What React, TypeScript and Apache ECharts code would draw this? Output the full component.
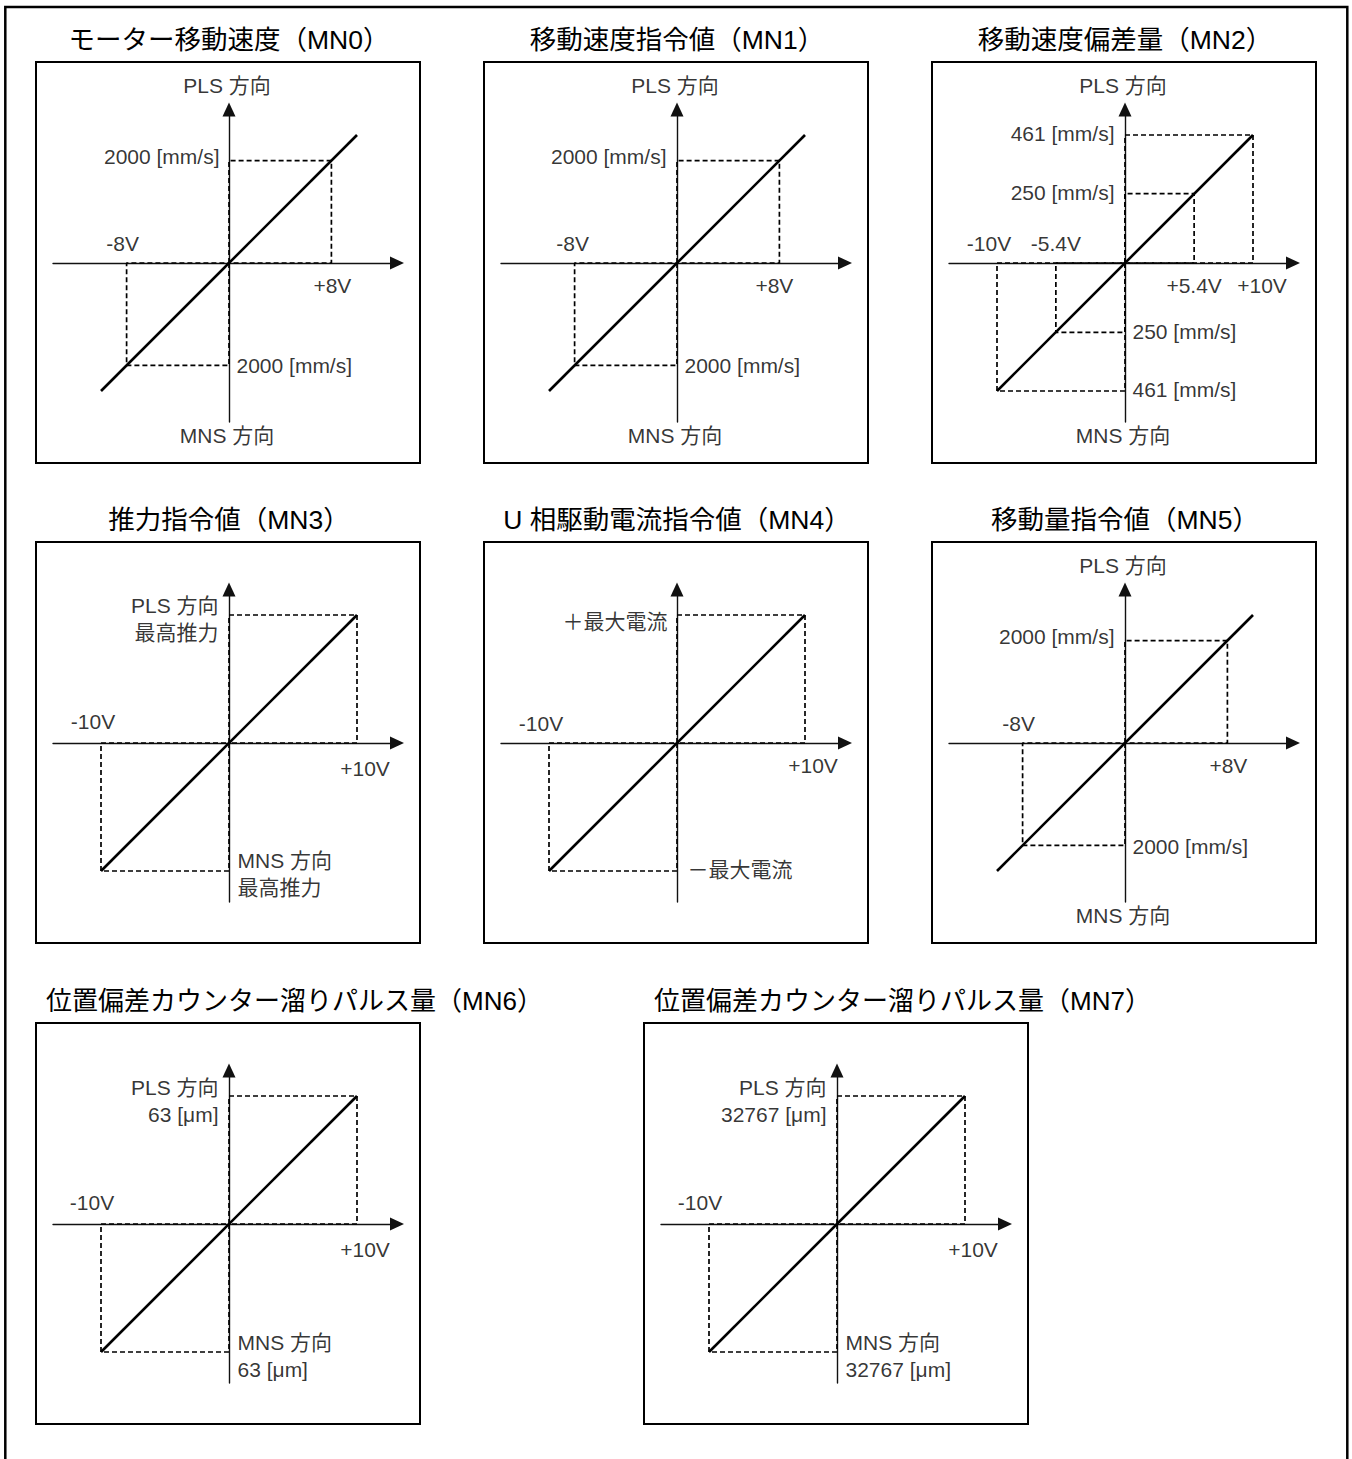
import React, { useEffect, useRef } from "react";
import * as echarts from "echarts";

// ---------- DATA ----------
const titles = [
  "モーター移動速度（MN0）",
  "移動速度指令値（MN1）",
  "移動速度偏差量（MN2）",
  "推力指令値（MN3）",
  "U 相駆動電流指令値（MN4）",
  "移動量指令値（MN5）",
  "位置偏差カウンター溜りパルス量（MN6）",
  "位置偏差カウンター溜りパルス量（MN7）",
];

// characteristic line runs from -10V to +10V
const lineVolts = [-10, 10];
// output at -10V / +10V (MN3, MN4 normalised to max thrust / max current)
const mn0Ends = [-2500, 2500];
const mn1Ends = [-2500, 2500];
const mn2Ends = [-461, 461];
const mn3Ends = [-1, 1];
const mn4Ends = [-1, 1];
const mn5Ends = [-2500, 2500];
const mn6Ends = [-63, 63];
const mn7Ends = [-32767, 32767];

// reference (dashed) points
const mn0RefVolts = [-8, 8];
const mn0RefValues = [-2000, 2000];
const mn1RefVolts = [-8, 8];
const mn1RefValues = [-2000, 2000];
const mn2RefVolts = [-10, -5.4, 5.4, 10];
const mn2RefValues = [-461, -250, 250, 461];
const mn3RefVolts = [-10, 10];
const mn3RefValues = [-1, 1];
const mn4RefVolts = [-10, 10];
const mn4RefValues = [-1, 1];
const mn5RefVolts = [-8, 8];
const mn5RefValues = [-2000, 2000];
const mn6RefVolts = [-10, 10];
const mn6RefValues = [-63, 63];
const mn7RefVolts = [-10, 10];
const mn7RefValues = [-32767, 32767];

// tick labels
const mn0VoltLabels = ["-8V", "+8V"];
const mn0ValueLabels = ["2000 [mm/s]", "2000 [mm/s]"];
const mn1VoltLabels = ["-8V", "+8V"];
const mn1ValueLabels = ["2000 [mm/s]", "2000 [mm/s]"];
const mn2VoltLabels = ["-10V", "-5.4V", "+5.4V", "+10V"];
const mn2ValueLabels = ["461 [mm/s]", "250 [mm/s]", "250 [mm/s]", "461 [mm/s]"];
const mn3VoltLabels = ["-10V", "+10V"];
const mn3ValueLabels = ["MNS 方向\n最高推力", "PLS 方向\n最高推力"];
const mn4VoltLabels = ["-10V", "+10V"];
const mn4ValueLabels = ["－最大電流", "＋最大電流"];
const mn5VoltLabels = ["-8V", "+8V"];
const mn5ValueLabels = ["2000 [mm/s]", "2000 [mm/s]"];
const mn6VoltLabels = ["-10V", "+10V"];
const mn6ValueLabels = ["MNS 方向\n63 [μm]", "PLS 方向\n63 [μm]"];
const mn7VoltLabels = ["-10V", "+10V"];
const mn7ValueLabels = ["MNS 方向\n32767 [μm]", "PLS 方向\n32767 [μm]"];
const dirLabels = ["MNS 方向", "PLS 方向"];

// ---------- LAYOUT ----------
const FONT = '"Liberation Sans", Arial, "Noto Sans CJK JP", sans-serif';
const LABEL_SIZE = 21;
const BOX_W = 384;
const BOX_H = 401;
const CX_OFF = 193;
const CY_OFF = 201;
const AX_LEFT = 176;
const AX_RIGHT = 168;
const AX_UP = 153.5;
const AX_DOWN = 159;
const PX_FULL = 128; // pixels for 10V / full scale

const boxes = [
  [36, 62], [484, 62], [932, 62],
  [36, 542], [484, 542], [932, 542],
  [36, 1023], [644, 1023],
];

type Layout = {
  voltDx: number[];
  valueDy: number[];
  gapL: number;
  gapR: number;
  lineHeight: number;
  dir: boolean;
  titleLeft: boolean;
  titleSize: number;
};

const panels = [
  { ends: mn0Ends, rv: mn0RefVolts, ry: mn0RefValues, vl: mn0VoltLabels, yl: mn0ValueLabels,
    lay: { voltDx: [-4, 1], valueDy: [0, -4], gapL: 9, gapR: 7, lineHeight: 22, dir: true, titleLeft: false, titleSize: 26.5 } as Layout },
  { ends: mn1Ends, rv: mn1RefVolts, ry: mn1RefValues, vl: mn1VoltLabels, yl: mn1ValueLabels,
    lay: { voltDx: [-2, -5], valueDy: [0, -4], gapL: 10, gapR: 7, lineHeight: 22, dir: true, titleLeft: false, titleSize: 26.5 } as Layout },
  { ends: mn2Ends, rv: mn2RefVolts, ry: mn2RefValues, vl: mn2VoltLabels, yl: mn2ValueLabels,
    lay: { voltDx: [-8, 0, 0, 9], valueDy: [-2, -1, -1, -2], gapL: 10, gapR: 7, lineHeight: 22, dir: true, titleLeft: false, titleSize: 26.5 } as Layout },
  { ends: mn3Ends, rv: mn3RefVolts, ry: mn3RefValues, vl: mn3VoltLabels, yl: mn3ValueLabels,
    lay: { voltDx: [-8, 8], valueDy: [3, 4], gapL: 10, gapR: 8, lineHeight: 27, dir: false, titleLeft: false, titleSize: 26.5 } as Layout },
  { ends: mn4Ends, rv: mn4RefVolts, ry: mn4RefValues, vl: mn4VoltLabels, yl: mn4ValueLabels,
    lay: { voltDx: [-8, 8], valueDy: [-2, 6], gapL: 9, gapR: 10, lineHeight: 22, dir: false, titleLeft: false, titleSize: 26.5 } as Layout },
  { ends: mn5Ends, rv: mn5RefVolts, ry: mn5RefValues, vl: mn5VoltLabels, yl: mn5ValueLabels,
    lay: { voltDx: [-4, 1], valueDy: [1, -4], gapL: 10, gapR: 7, lineHeight: 22, dir: true, titleLeft: false, titleSize: 26.5 } as Layout },
  { ends: mn6Ends, rv: mn6RefVolts, ry: mn6RefValues, vl: mn6VoltLabels, yl: mn6ValueLabels,
    lay: { voltDx: [-9, 8], valueDy: [4, 4.5], gapL: 10, gapR: 8, lineHeight: 27, dir: false, titleLeft: true, titleSize: 26 } as Layout },
  { ends: mn7Ends, rv: mn7RefVolts, ry: mn7RefValues, vl: mn7VoltLabels, yl: mn7ValueLabels,
    lay: { voltDx: [-9, 8], valueDy: [4, 4.5], gapL: 10, gapR: 8, lineHeight: 27, dir: false, titleLeft: true, titleSize: 26 } as Layout },
];

function buildOption() {
  const grid: any[] = [];
  const xAxis: any[] = [];
  const yAxis: any[] = [];
  const series: any[] = [];
  const graphic: any[] = [];

  graphic.push({
    type: "rect",
    silent: true,
    shape: { x: 5.3, y: 7, width: 1342, height: 1520 },
    style: { fill: "none", stroke: "#000", lineWidth: 2.5 },
  });

  const axisLine = {
    show: true,
    onZero: true,
    symbol: ["none", "triangle"],
    symbolSize: [13, 14],
    lineStyle: { color: "#111", width: 1.4 },
  };

  panels.forEach((p, i) => {
    const [bl, bt] = boxes[i];
    const cx = bl + CX_OFF;
    const cy = bt + CY_OFF;
    const fs = p.ends[1];
    const lay = p.lay;

    graphic.push({
      type: "rect",
      silent: true,
      shape: { x: bl, y: bt, width: BOX_W, height: BOX_H },
      style: { fill: "none", stroke: "#000", lineWidth: 2 },
    });
    graphic.push({
      type: "text",
      silent: true,
      x: lay.titleLeft ? bl + 10 : bl + BOX_W / 2 + 1,
      y: bt - 22,
      style: {
        text: titles[i],
        fill: "#000",
        fontSize: lay.titleSize,
        fontFamily: FONT,
        align: lay.titleLeft ? "left" : "center",
        verticalAlign: "middle",
      },
    });

    grid.push({
      left: cx - AX_LEFT,
      top: cy - AX_UP,
      width: AX_LEFT + AX_RIGHT,
      height: AX_UP + AX_DOWN,
      containLabel: false,
    });
    xAxis.push({
      gridIndex: i,
      type: "value",
      min: (-10 * AX_LEFT) / PX_FULL,
      max: (10 * AX_RIGHT) / PX_FULL,
      axisLine,
      axisTick: { show: false },
      axisLabel: { show: false },
      splitLine: { show: false },
    });
    yAxis.push({
      gridIndex: i,
      type: "value",
      min: (-fs * AX_DOWN) / PX_FULL,
      max: (fs * AX_UP) / PX_FULL,
      axisLine,
      axisTick: { show: false },
      axisLabel: { show: false },
      splitLine: { show: false },
    });

    // guides (dashed rectangles)
    p.rv.forEach((v, k) => {
      const y = p.ry[k];
      series.push({
        type: "line",
        xAxisIndex: i,
        yAxisIndex: i,
        data: [[0, 0], [0, y], [v, y], [v, 0], [0, 0]],
        symbol: "none",
        silent: true,
        z: 3,
        lineStyle: { color: "#000", width: 1.7, type: [5, 3] },
      });
    });

    // characteristic line
    series.push({
      type: "line",
      xAxisIndex: i,
      yAxisIndex: i,
      data: [[lineVolts[0], p.ends[0]], [lineVolts[1], p.ends[1]]],
      symbol: "none",
      silent: true,
      z: 4,
      lineStyle: { color: "#000", width: 2.6 },
    });

    // labels
    const items: any[] = [];
    p.rv.forEach((v, k) => {
      const neg = v < 0;
      items.push({
        value: [v, 0],
        label: {
          formatter: p.vl[k],
          position: neg ? "top" : "bottom",
          distance: neg ? 8 : 11,
          offset: [lay.voltDx[k], 0],
        },
      });
      const y = p.ry[k];
      items.push({
        value: [0, y],
        label: {
          formatter: p.yl[k],
          position: y < 0 ? "right" : "left",
          distance: y < 0 ? lay.gapR : lay.gapL,
          offset: [0, lay.valueDy[k]],
        },
      });
    });
    if (lay.dir) {
      items.push({
        value: [0, (-fs * AX_DOWN) / PX_FULL],
        label: { formatter: dirLabels[0], position: "bottom", distance: 2, offset: [-2, 0] },
      });
      items.push({
        value: [0, (fs * AX_UP) / PX_FULL],
        label: { formatter: dirLabels[1], position: "top", distance: 13, offset: [-2, 0] },
      });
    }
    series.push({
      type: "scatter",
      xAxisIndex: i,
      yAxisIndex: i,
      symbol: "circle",
      symbolSize: 1,
      silent: true,
      z: 5,
      itemStyle: { color: "rgba(0,0,0,0)" },
      label: {
        show: true,
        color: "#000",
        fontSize: LABEL_SIZE,
        fontFamily: FONT,
        lineHeight: lay.lineHeight,
      },
      data: items,
    });
  });

  return {
    animation: false,
    backgroundColor: "#fff",
    grid,
    xAxis,
    yAxis,
    series,
    graphic,
  };
}

export default function App() {
  const ref = useRef<HTMLDivElement>(null);
  useEffect(() => {
    if (!ref.current) return;
    const chart = echarts.init(ref.current, undefined, { renderer: "svg" });
    chart.setOption(buildOption() as any);
    return () => chart.dispose();
  }, []);
  return (
    <div
      ref={ref}
      style={{ position: "fixed", left: 0, top: 0, width: 1352, height: 1459, background: "#fff" }}
    />
  );
}
